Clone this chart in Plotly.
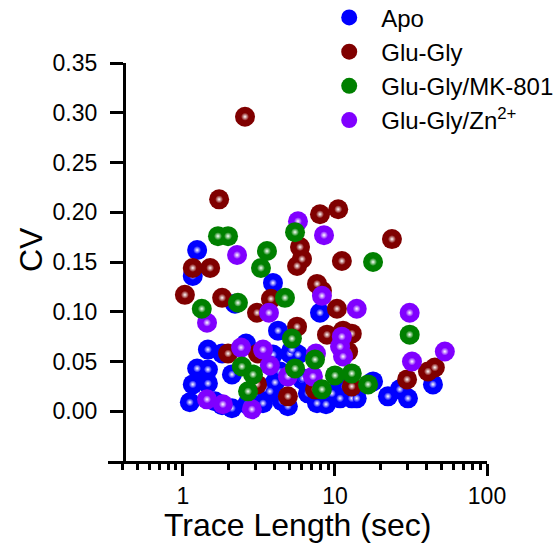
import plotly.graph_objects as go

# ---- data (Trace length in sec, CV) ----
apo_x = [1.24, 1.16, 3.91, 7.97, 4.22, 1.46, 1.81, 2.60, 1.24, 1.46, 2.10, 1.16, 1.46, 1.11, 1.81,
         2.10, 2.64, 3.36, 3.46, 3.73, 4.03, 4.48, 3.91, 5.06, 5.71, 4.35, 6.07, 6.64, 7.62, 9.55,
         12.9, 10.8, 13.9, 17.8, 22.3, 26.7, 30.2, 44.1, 5.21, 6.15, 2.20, 1.62, 4.90, 8.73, 11.6]
apo_y = [0.162, 0.136, 0.129, 0.099, 0.081, 0.062, 0.058, 0.068, 0.043, 0.042, 0.037, 0.027, 0.028,
         0.009, 0.006, 0.003, 0.007, 0.008, 0.023, 0.020, 0.029, 0.010, 0.057, 0.058, 0.057, 0.040,
         0.032, 0.018, 0.008, 0.018, 0.013, 0.013, 0.013, 0.030, 0.015, 0.022, 0.013, 0.027, 0.062,
         0.033, 0.108, 0.010, 0.005, 0.007, 0.025]

gg_x = [2.56, 1.73, 1.03, 1.16, 1.51, 1.81, 3.07, 3.79, 7.97, 10.5, 5.89, 6.07, 5.63, 11.1, 7.62,
        8.21, 10.3, 5.63, 8.86, 11.3, 12.9, 23.7, 1.98, 3.11, 3.07, 4.90, 7.39, 12.9, 12.2, 29.8,
        40.9, 45.4]
gg_y = [0.296, 0.213, 0.117, 0.144, 0.144, 0.114, 0.099, 0.113, 0.198, 0.203, 0.165, 0.153, 0.146,
        0.151, 0.128, 0.121, 0.103, 0.085, 0.077, 0.081, 0.078, 0.173, 0.058, 0.058, 0.027, 0.015,
        0.022, 0.025, 0.060, 0.032, 0.040, 0.044]

mk_x = [1.70, 1.98, 5.46, 3.57, 3.26, 4.69, 2.30, 1.33, 17.8, 31.0, 5.21, 2.44, 2.89, 2.68, 5.46,
        7.39, 8.21, 10.0, 12.9, 16.5]
mk_y = [0.176, 0.176, 0.180, 0.161, 0.144, 0.114, 0.109, 0.103, 0.150, 0.077, 0.073, 0.045, 0.037,
        0.020, 0.043, 0.052, 0.022, 0.036, 0.038, 0.027]

zn_x = [5.71, 8.47, 2.27, 1.44, 3.68, 8.21, 13.9, 2.41, 3.36, 3.73, 4.90, 7.16, 11.1, 10.8, 11.3,
        1.44, 1.83, 2.84, 31.0, 52.8, 32.1, 7.50]
zn_y = [0.191, 0.177, 0.157, 0.089, 0.099, 0.116, 0.103, 0.064, 0.062, 0.046, 0.035, 0.035, 0.075,
        0.065, 0.055, 0.012, 0.007, 0.002, 0.099, 0.060, 0.050, 0.058]

series = [
    ("Apo", apo_x, apo_y, "#0000FF", 1),
    ("Glu-Gly", gg_x, gg_y, "#800000", 2),
    ("Glu-Gly/Zn<sup>2+</sup>", zn_x, zn_y, "#8000FF", 4),
    ("Glu-Gly/MK-801", mk_x, mk_y, "#008000", 3),
]

FONT = "Arial, Liberation Sans, sans-serif"
fig = go.Figure()
for name, xs, ys, col, rank in series:
    fig.add_trace(go.Scatter(
        x=xs, y=ys, mode="markers", name=name, legendrank=rank,
        marker=dict(size=20, color=col, line=dict(width=0)),
        cliponaxis=False,
    ))
    fig.add_trace(go.Scatter(
        x=xs, y=ys, mode="markers", showlegend=False, hoverinfo="skip",
        marker=dict(size=8, color=col, line=dict(width=0),
                    gradient=dict(type="radial", color="#FFFFFF")),
        cliponaxis=False,
    ))

fig.update_layout(
    width=560, height=554,
    margin=dict(l=108, r=73, t=63, b=93, autoexpand=False),
    paper_bgcolor="white", plot_bgcolor="white",
    font=dict(family=FONT, size=23, color="black"),
    showlegend=True,
    legend=dict(x=0.552, y=1.17, xanchor="left", yanchor="top",
                font=dict(family=FONT, size=24), bgcolor="rgba(0,0,0,0)",
                itemsizing="trace", itemwidth=54, tracegroupgap=0),
    xaxis=dict(
        type="log", range=[-0.493, 2.0], dtick=1,
        showline=True, linewidth=3, linecolor="black", mirror=False,
        showgrid=False, zeroline=False,
        ticks="outside", ticklen=12, tickwidth=3, tickcolor="black",
        tickfont=dict(family=FONT, size=23),
        minor=dict(ticks="outside", ticklen=6, tickwidth=2.5, tickcolor="black",
                   dtick="D1", showgrid=False),
    ),
    yaxis=dict(
        range=[-0.05, 0.35], anchor="free", position=0.042,
        tickvals=[0, 0.05, 0.10, 0.15, 0.20, 0.25, 0.30, 0.35], tickformat=".2f",
        showline=True, linewidth=3, linecolor="black",
        showgrid=False, zeroline=False,
        ticks="outside", ticklen=13, tickwidth=3, tickcolor="black",
        tickfont=dict(family=FONT, size=23), ticklabelstandoff=8,
    ),
    annotations=[
        dict(text="Trace Length (sec)", xref="paper", yref="paper", x=0.5, y=-0.161,
             xanchor="center", yanchor="middle", showarrow=False,
             font=dict(family=FONT, size=32)),
        dict(text="CV", xref="paper", yref="paper", x=-0.203, y=0.53,
             xanchor="center", yanchor="middle", showarrow=False, textangle=-90,
             font=dict(family=FONT, size=32)),
    ],
)

fig.write_html("out.html")
